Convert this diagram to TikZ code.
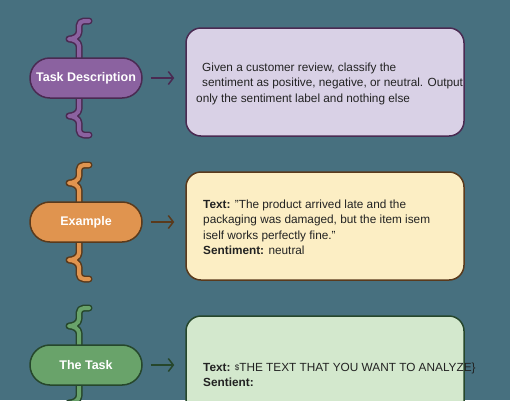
\documentclass[tikz,border=0pt]{standalone}
\usepackage{fontspec}
\setmainfont{Liberation Sans}
\usetikzlibrary{arrows.meta,calc}
\definecolor{bg}{HTML}{47707F}
\definecolor{purpF}{HTML}{8B62A0}
\definecolor{purpD}{HTML}{4A2A52}
\definecolor{boxA}{HTML}{D9D1E6}
\definecolor{orF}{HTML}{E0944F}
\definecolor{orD}{HTML}{5A3A1C}
\definecolor{boxB}{HTML}{FCEEC4}
\definecolor{grF}{HTML}{69A36A}
\definecolor{grD}{HTML}{26472C}
\definecolor{boxC}{HTML}{D3E8CD}
\definecolor{textc}{HTML}{222222}
\newcommand\bracepath{(3,-57) -- (-2,-57) .. controls (-5,-57) and (-7,-55) .. (-7,-52) -- (-7,-46) .. controls (-7,-42) and (-12,-39) .. (-17,-39) .. controls (-12,-39) and (-7,-36) .. (-7,-32) -- (-7,-18)
 (-7,18) -- (-7,31) .. controls (-7,35) and (-12,38) .. (-17,38) .. controls (-12,38) and (-7,41) .. (-7,45) -- (-7,52) .. controls (-7,55) and (-5,57) .. (-2,57) -- (3,57)}
\newcommand\mybrace[3]{%
  \draw[line width=7pt, draw=#2, line cap=round, line join=round, shift={(#1)}] \bracepath;
  \draw[line width=4pt, draw=#3, line cap=round, line join=round, shift={(#1)}] \bracepath;}
\newcommand\qq{\symbol{34}}
\begin{document}
\begin{tikzpicture}[x=1pt,y=-1pt,
  pill/.style={draw, line width=1.5pt, rounded corners=19.9pt, minimum width=112pt, minimum height=40pt, text=white, font=\fontsize{12.5}{14}\selectfont\bfseries, inner sep=0pt},
  box/.style={draw, line width=1.5pt, rounded corners=15pt, minimum width=278pt, inner sep=0pt},
  txt/.style={anchor=west, align=left, inner sep=0pt, text=textc, font=\fontsize{11.8}{15.5}\selectfont},
  arr/.style={line width=1.5pt, -{Straight Barb[length=5pt,width=13pt]}, shorten <=8pt, shorten >=11pt}]
\useasboundingbox (0,0) rectangle (510,400);
\clip (0,0) rectangle (510,400);
\fill[bg] (0,0) rectangle (510,400);
\coordinate (c1) at (86,78);
\coordinate (c2) at (86,222);
\coordinate (c3) at (86,365);
\mybrace{c1}{purpD}{purpF}
\mybrace{c2}{orD}{orF}
\mybrace{c3}{grD}{grF}
\node[pill, fill=purpF, draw=purpD] (p1) at (c1) {Task Description};
\node[pill, fill=orF, draw=orD] (p2) at (c2) {Example};
\node[pill, fill=grF, draw=grD] (p3) at (c3) {The Task};
\node[box, fill=boxA, draw=purpD, minimum height=108pt] (b1) at (325,82) {};
\node[box, fill=boxB, draw=orD, minimum height=108pt] (b2) at (325,226) {};
\node[box, fill=boxC, draw=grD, minimum height=130pt] (b3) at (325,381) {};
\draw[arr, draw=purpD] (p1.east) -- (p1.east -| b1.west);
\draw[arr, draw=orD] (p2.east) -- (p2.east -| b2.west);
\draw[arr, draw=grD] (p3.east) -- (p3.east -| b3.west);
\node[txt] (t1) at (196,83.5) {\hspace*{6pt}Given a customer review, classify the\\\hspace*{6pt}sentiment as positive, negative, or neutral. Output\\only the sentiment label and nothing else};
\node[txt] (t2) at (203,227.5) {\textbf{Text:} \qq The product arrived late and the\\packaging was damaged, but the item isem\\iself works perfectly fine.\qq\\\textbf{Sentiment:} neutral};
\node[txt] (t3) at (203,375) {\textbf{Text:} \raisebox{1pt}{\fontsize{8}{8}\selectfont\$}THE TEXT THAT YOU WANT TO ANALYZE\}\\\textbf{Sentient:}};
\end{tikzpicture}
\end{document}
